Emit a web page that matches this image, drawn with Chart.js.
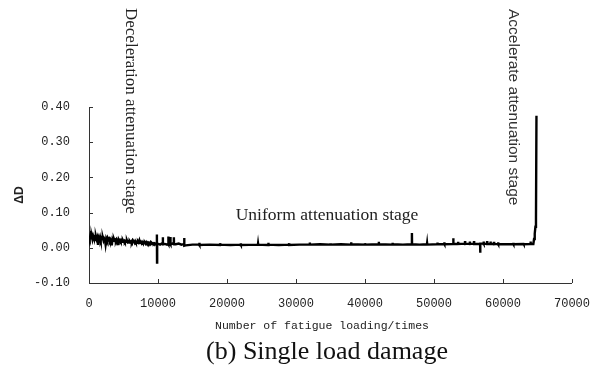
<!DOCTYPE html>
<html>
<head>
<meta charset="utf-8">
<script src="https://cdn.jsdelivr.net/npm/chart.js@4.4.1/dist/chart.umd.min.js"></script>
<style>
  html, body { margin: 0; padding: 0; background: #fff; }
  #wrap { width: 604px; height: 369px; }
</style>
</head>
<body>
<div id="wrap"><canvas id="c" width="604" height="369"></canvas></div>
<script>
// Number of fatigue loading cycles
const cycles = [
  0, 100, 200, 300, 400, 500, 600, 700, 800, 900,
  1000, 1100, 1200, 1300, 1400, 1500, 1600, 1700, 1800, 1900,
  2000, 2100, 2200, 2300, 2400, 2500, 2600, 2700, 2800, 2900,
  3000, 3100, 3200, 3300, 3400, 3500, 3600, 3700, 3800, 3900,
  4000, 4100, 4200, 4300, 4400, 4500, 4600, 4700, 4800, 4900,
  5000, 5100, 5200, 5300, 5400, 5500, 5600, 5700, 5800, 5900,
  6000, 6100, 6200, 6300, 6400, 6500, 6600, 6700, 6800, 6900,
  7000, 7100, 7200, 7300, 7400, 7500, 7600, 7700, 7800, 7900,
  8000, 8100, 8200, 8300, 8400, 8500, 8600, 8700, 8800, 8900,
  9000, 9100, 9200, 9300, 9400, 9500, 9600, 9700, 9800, 9840,
  9860, 9880, 10100, 10300, 10500, 10680, 10700, 10720, 11000, 11300,
  11480, 11500, 11520, 11780, 11800, 11820, 12100, 12280, 12300, 12320,
  12600, 13000, 13400, 13780, 13800, 13820, 14000, 15000, 15980, 16000,
  16020, 17500, 18980, 19000, 19020, 20500, 21980, 22000, 22020, 24480,
  24500, 24520, 25980, 26000, 26020, 27500, 28980, 29000, 29020, 30500,
  31980, 32000, 32020, 33500, 34980, 35000, 35020, 36500, 37980, 38000,
  38020, 39980, 40000, 40020, 41980, 42000, 42020, 43980, 44000, 44020,
  45500, 46780, 46800, 46820, 47900, 48980, 49000, 49020, 50480, 50500,
  50520, 51480, 51500, 51520, 52780, 52800, 52820, 53480, 53500, 53520,
  54480, 54500, 54520, 55180, 55200, 55220, 55780, 55800, 55820, 56680,
  56700, 56720, 57180, 57200, 57220, 57680, 57700, 57720, 58180, 58200,
  58220, 58680, 58700, 58720, 59280, 59300, 59320, 59980, 60000, 60020,
  61480, 61500, 61520, 62980, 63000, 63020, 63980, 64000, 64020, 64400,
  64500, 64600, 64700, 64780, 64850
];

// Damage increment per loading step (ΔD)
const deltaD = [
  0.032, 0.026, 0.035, 0.027, 0.033, 0.024, 0.034, 0.028, 0.031, 0.022,
  0.033, 0.025, 0.030, 0.008, 0.029, 0.024, 0.031, 0.022, 0.028, 0.025,
  0.029, 0.021, 0.027, 0.024, 0.010, 0.026, 0.021, 0.028, 0.023, 0.026,
  0.020, 0.025, 0.022, 0.007, 0.024, 0.020, 0.026, 0.021, 0.023, 0.019,
  0.024, 0.020, 0.008, 0.023, 0.019, 0.022, 0.018, 0.021, 0.017, 0.022,
  0.018, 0.020, 0.016, 0.019, 0.017, 0.021, 0.016, 0.018, 0.015, 0.019,
  0.016, 0.018, 0.015, 0.020, 0.016, 0.017, 0.014, 0.019, 0.015, 0.017,
  0.014, 0.018, 0.015, 0.021, 0.014, 0.016, 0.013, 0.017, 0.014, 0.016,
  0.013, 0.015, 0.012, 0.016, 0.013, 0.015, 0.011, 0.014, 0.012, 0.015,
  0.011, 0.014, 0.012, 0.013, 0.011, 0.013, 0.012, 0.011, 0.012, 0.038,
  -0.042, 0.010, 0.011, 0.009, 0.012, 0.010, 0.030, 0.010, 0.011, 0.009,
  0.011, 0.032, 0.010, 0.011, 0.031, 0.010, 0.012, 0.010, 0.030, 0.011,
  0.010, 0.012, 0.009, 0.011, 0.028, 0.006, 0.007, 0.009, 0.009, 0.014,
  0.008, 0.009, 0.008, 0.013, 0.009, 0.008, 0.009, 0.013, 0.008, 0.009,
  0.012, 0.009, 0.008, 0.014, 0.009, 0.008, 0.009, 0.013, 0.008, 0.009,
  0.009, 0.015, 0.009, 0.010, 0.009, 0.013, 0.009, 0.010, 0.009, 0.016,
  0.010, 0.009, 0.013, 0.009, 0.010, 0.017, 0.010, 0.009, 0.014, 0.010,
  0.009, 0.010, 0.042, 0.010, 0.009, 0.010, 0.013, 0.009, 0.010, 0.015,
  0.010, 0.011, 0.016, 0.010, 0.011, 0.027, 0.011, 0.011, 0.017, 0.011,
  0.012, 0.019, 0.011, 0.012, 0.018, 0.011, 0.012, 0.019, 0.011, 0.011,
  -0.014, 0.012, 0.012, 0.018, 0.011, 0.012, 0.019, 0.011, 0.011, 0.018,
  0.011, 0.011, 0.017, 0.010, 0.011, 0.016, 0.010, 0.010, 0.013, 0.010,
  0.011, 0.014, 0.010, 0.011, 0.013, 0.010, 0.011, 0.018, 0.011, 0.011,
  0.025, 0.040, 0.060, 0.085, 0.375
];

// Axis tick values
const xTicks = [0, 10000, 20000, 30000, 40000, 50000, 60000, 70000];
const yTicks = [-0.1, 0, 0.1, 0.2, 0.3, 0.4];

// Stage annotations and axis titles
const stageLabels = {
  deceleration: 'Deceleration attenuation stage',
  uniform: 'Uniform attenuation stage',
  accelerate: 'Accelerate attenuation stage'
};
const yTitle = 'ΔD';
const xTitle = 'Number of fatigue loading/times';
const caption = '(b) Single load damage';

const points = cycles.map((c, i) => ({ x: c, y: deltaD[i] }));

// Inward tick marks plus the annotation texts
const decorations = {
  id: 'decorations',
  afterDraw(chart) {
    const { ctx, chartArea, scales } = chart;
    ctx.save();
    ctx.strokeStyle = '#333';
    ctx.lineWidth = 1;
    ctx.beginPath();
    yTicks.forEach(v => {
      const y = Math.round(scales.y.getPixelForValue(v)) + 0.5;
      ctx.moveTo(chartArea.left, y);
      ctx.lineTo(chartArea.left + 4, y);
    });
    xTicks.forEach(v => {
      const x = Math.round(scales.x.getPixelForValue(v)) + 0.5;
      ctx.moveTo(x, chartArea.bottom);
      ctx.lineTo(x, chartArea.bottom - 4);
    });
    ctx.stroke();

    ctx.fillStyle = '#222';
    ctx.textBaseline = 'middle';

    // vertical stage labels
    ctx.save();
    ctx.translate(130, 8);
    ctx.rotate(Math.PI / 2);
    ctx.textAlign = 'left';
    ctx.font = '17px "Liberation Serif", serif';
    ctx.fillText(stageLabels.deceleration, 0, 0);
    ctx.restore();

    ctx.save();
    ctx.translate(513, 9);
    ctx.rotate(Math.PI / 2);
    ctx.textAlign = 'left';
    ctx.fillStyle = '#333';
    ctx.font = '15.5px "Liberation Sans", sans-serif';
    ctx.fillText(stageLabels.accelerate, 0, 0);
    ctx.restore();

    ctx.textAlign = 'center';
    ctx.font = '17.5px "Liberation Serif", serif';
    ctx.fillText(stageLabels.uniform, 327, 215);

    // y-axis title
    ctx.save();
    ctx.translate(20, 195);
    ctx.rotate(-Math.PI / 2);
    ctx.font = 'bold 12px "Liberation Sans", sans-serif';
    ctx.fillText(yTitle, 0, 0);
    ctx.restore();

    ctx.font = '11.5px "Liberation Mono", monospace';
    ctx.fillText(xTitle, 322, 326);

    ctx.fillStyle = '#111';
    ctx.font = '26px "Liberation Serif", serif';
    ctx.fillText(caption, 327, 352);
    ctx.restore();
  }
};

new Chart(document.getElementById('c'), {
  type: 'scatter',
  data: {
    datasets: [{
      data: points,
      showLine: true,
      borderColor: '#000',
      borderWidth: 2.4,
      pointRadius: 0,
      tension: 0
    }]
  },
  options: {
    responsive: false,
    animation: false,
    layout: { padding: { top: 107, right: 32, left: 0, bottom: 0 } },
    plugins: { legend: { display: false }, tooltip: { enabled: false } },
    scales: {
      x: {
        type: 'linear',
        min: 0,
        max: 70000,
        afterBuildTicks: s => { s.ticks = xTicks.map(v => ({ value: v })); },
        afterFit: s => { s.height = 86; },
        grid: { display: false, drawTicks: false },
        border: { display: true, color: '#333', width: 1 },
        ticks: {
          padding: 14,
          color: '#222',
          font: { family: '"Liberation Mono", monospace', size: 12 },
          maxRotation: 0,
          callback: v => String(v)
        }
      },
      y: {
        type: 'linear',
        min: -0.1,
        max: 0.4,
        afterBuildTicks: s => { s.ticks = yTicks.map(v => ({ value: v })); },
        afterFit: s => { s.width = 89; },
        grid: { display: false, drawTicks: false },
        border: { display: true, color: '#333', width: 1 },
        ticks: {
          padding: 19,
          color: '#222',
          font: { family: '"Liberation Mono", monospace', size: 12 },
          callback: v => v.toFixed(2)
        }
      }
    }
  },
  plugins: [decorations]
});
</script>
</body>
</html>
